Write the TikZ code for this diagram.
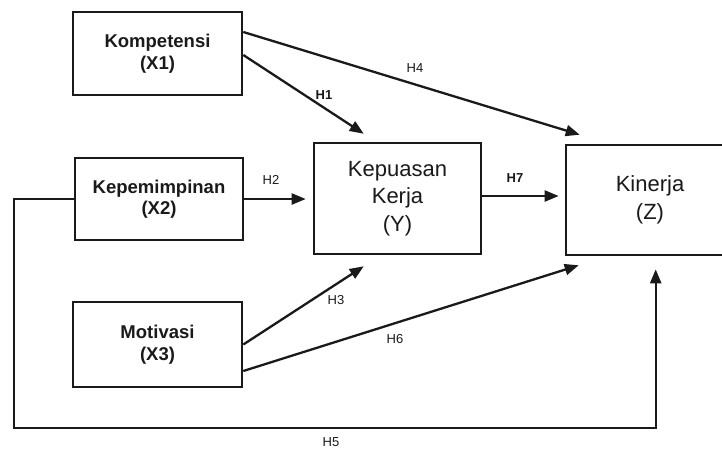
\documentclass[tikz,border=0pt]{standalone}
\usepackage{fontspec}
\setmainfont{Liberation Sans}
\usetikzlibrary{arrows.meta,calc}
\definecolor{ink}{HTML}{1A1A1A}
\begin{document}
\begin{tikzpicture}[x=1pt,y=-1pt,
  varbox/.style={draw=ink,line width=2.6pt,inner sep=0pt,align=center,text=ink},
  exo/.style={varbox,font=\bfseries\fontsize{18.5}{21.5}\selectfont},
  endo/.style={varbox,font=\fontsize{22}{27.5}\selectfont},
  arr/.style={draw=ink,line width=2.3pt,-{Triangle[length=14pt,width=11pt]}},
  hlab/.style={text=ink,font=\fontsize{13}{15}\selectfont,inner sep=1pt}]
\clip (0,0) rectangle (722,448);
\fill[white] (0,0) rectangle (722,448);
% boxes
\node[exo,minimum width=169,minimum height=83] (x1) at (157.5,53.5) {Kompetensi\\(X1)};
\node[exo,minimum width=168,minimum height=82] (x2) at (159,199) {Kepemimpinan\\(X2)};
\node[exo,minimum width=169,minimum height=85] (x3) at (157.5,344.5) {Motivasi\\(X3)};
\node[endo,minimum width=167,minimum height=111] (y) at (397.5,198.5) {Kepuasan\\Kerja\\(Y)};
\node[endo,minimum width=168,minimum height=110] (z) at (650,200) {Kinerja\\(Z)};
% free ends
\coordinate (h1t) at ($(y.north west)+(51,-8)$);
\coordinate (h4t) at ($(z.north west)+(15,-9)$);
\coordinate (h2t) at ($(y.west)+(-7,0)$);
\coordinate (h7s) at ($(y.east)+(0,-2.5)$);
\coordinate (h7t) at ($(z.west)+(-6,-4)$);
\coordinate (h3t) at ($(y.south west)+(51,11)$);
\coordinate (h6t) at ($(z.south west)+(14,9)$);
\coordinate (h5l) at (14,428);
\coordinate (h5t) at ($(z.south west)+(91,13)$);
% connectors
\draw[arr] ($(x1.east)+(0,-21.5)$) -- (h4t);
\draw[arr] ($(x1.east)+(0,1.5)$) -- (h1t);
\draw[arr] (x2.east) -- (x2.east -| h2t);
\draw[arr] (h7s) -- (h7t);
\draw[arr] (x3.east) -- (h3t);
\draw[arr] ($(x3.east)+(0,26.5)$) -- (h6t);
\draw[arr] (x2.west) -| (h5l) -| (h5t);
% labels
\node[hlab] (l4) at (415,68) {H4};
\node[hlab,font=\bfseries\fontsize{13}{15}\selectfont] (l1) at (324,95) {H1};
\node[hlab] (l2) at (271,180) {H2};
\node[hlab,font=\bfseries\fontsize{13}{15}\selectfont] (l7) at (515,178) {H7};
\node[hlab] (l3) at (336,300) {H3};
\node[hlab] (l6) at (395,339) {H6};
\node[hlab] (l5) at (331,442) {H5};
\end{tikzpicture}
\end{document}
